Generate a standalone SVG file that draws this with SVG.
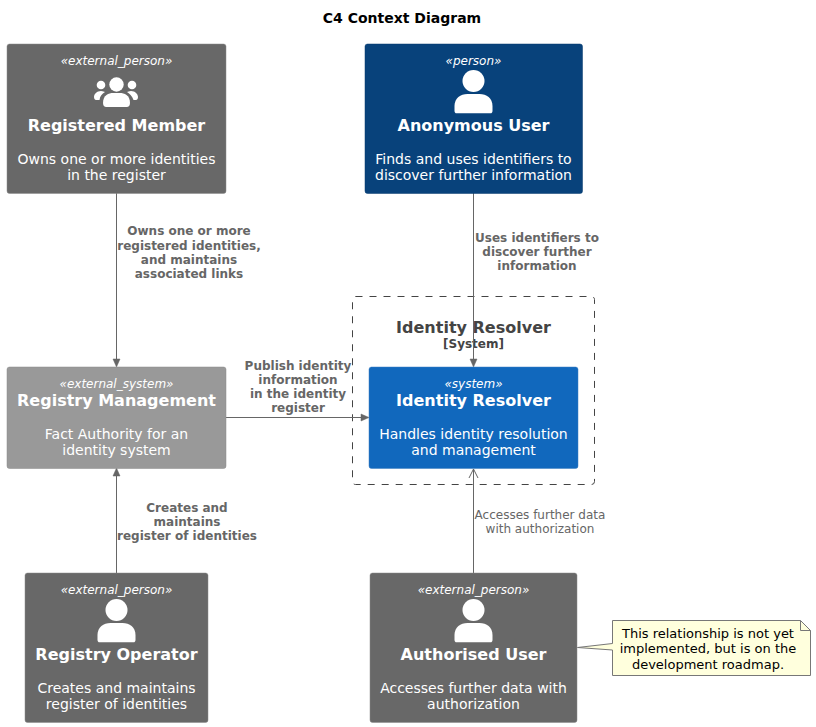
<svg xmlns="http://www.w3.org/2000/svg" width="816" height="727" viewBox="0 0 816 727">
<defs>
<style>
text{font-family:"DejaVu Sans",sans-serif;text-anchor:middle}
.st{font-size:12px;font-style:italic;fill:#fff}
.nm{font-size:16px;font-weight:bold;fill:#fff}
.ds{font-size:14px;fill:#fff}
.rl{font-size:12px;font-weight:bold;fill:#666}
.rn{font-size:12px;fill:#666}
.cn{stroke:#666;stroke-width:1;fill:none}
.ah{fill:#666;stroke:#666;stroke-width:0.500}
.ic{fill:#fff}
</style>
<g id="person"><circle cx="0" cy="0" r="11"/><path d="M-19 30V25C-19 17-13 13-6 13H6C13 13 19 17 19 25V30C19 31.500 18 32.300 17 32.300H-17C-18 32.300-19 31.500-19 30Z"/></g>
</defs>
<rect width="816" height="727" fill="#fff"/>
<text x="402" y="23" font-size="14" font-weight="bold" fill="#000">C4 Context Diagram</text>

<g id="boundary">
<rect x="352.500" y="296.500" width="242" height="188" rx="3" fill="none" stroke="#444" stroke-dasharray="7,7"/>
<text x="473.500" y="333" font-size="16" font-weight="bold" fill="#444">Identity Resolver</text>
<text x="473.500" y="348" font-size="12" font-weight="bold" fill="#444">[System]</text>
</g>

<g id="connectors">
<path class="cn" d="M116.500 193V361"/><path class="ah" d="M116.500 367L113 359L120 359Z"/>
<path class="cn" d="M473.500 193V361"/><path class="ah" d="M473.500 367L470 359L477 359Z"/>
<path class="cn" d="M226 417.500H363"/><path class="ah" d="M369 417.500L361 414L361 421Z"/>
<path class="cn" d="M116.500 573V474"/><path class="ah" d="M116.500 468L113 476L120 476Z"/>
<path class="cn" d="M473.500 573V469M469 478L473.500 469L478 478"/>
<text class="rl" x="189" y="235">Owns one or more</text>
<text class="rl" x="189" y="250">registered identities,</text>
<text class="rl" x="189" y="264">and maintains</text>
<text class="rl" x="189" y="278">associated links</text>
<text class="rl" x="537" y="242">Uses identifiers to</text>
<text class="rl" x="537" y="256">discover further</text>
<text class="rl" x="537" y="270">information</text>
<text class="rl" x="298" y="370">Publish identity</text>
<text class="rl" x="298" y="384">information</text>
<text class="rl" x="298" y="398">in the identity</text>
<text class="rl" x="298" y="412">register</text>
<text class="rl" x="187" y="512">Creates and</text>
<text class="rl" x="187" y="526">maintains</text>
<text class="rl" x="187" y="540">register of identities</text>
<text class="rn" x="540" y="519">Accesses further data</text>
<text class="rn" x="540" y="533">with authorization</text>
</g>

<g id="registered-member">
<rect x="7" y="44" width="219" height="149.500" rx="2.500" fill="#686868" stroke="#8a8a8a" stroke-width="0.500"/>
<text class="st" x="116.500" y="65">«external_person»</text>
<g class="ic"><circle cx="116.500" cy="84.500" r="7.200"/><circle cx="101" cy="85" r="4.300"/><circle cx="132" cy="85" r="4.300"/>
<path d="M103 103C103 95 109 93 113 93H120C124 93 130 95 130 103C130 106 128 107 127 107H106C105 107 103 106 103 103Z"/>
<path d="M94 97C94 94 97 91 101 91C103 91 104 92 105 92C102 94 100 96 99.500 100L96 100C95 100 94 99 94 97Z"/>
<path d="M138 97C138 94 135 91 131 91C129 91 128 92 127 92C130 94 132 96 133.500 100L136 100C137 100 138 99 138 97Z"/></g>
<text class="nm" x="116.500" y="131">Registered Member</text>
<text class="ds" x="116.500" y="164">Owns one or more identities</text>
<text class="ds" x="116.500" y="180">in the register</text>
</g>

<g id="anonymous-user">
<rect x="365" y="44" width="217.500" height="149.500" rx="2.500" fill="#08427b" stroke="#073b6f" stroke-width="0.500"/>
<text class="st" x="473.500" y="65">«person»</text>
<use href="#person" x="473.500" y="81" class="ic"/>
<text class="nm" x="473.500" y="131">Anonymous User</text>
<text class="ds" x="473.500" y="164">Finds and uses identifiers to</text>
<text class="ds" x="473.500" y="180">discover further information</text>
</g>

<g id="registry-management">
<rect x="7" y="367" width="219" height="101.500" rx="2.500" fill="#999" stroke="#8a8a8a" stroke-width="0.500"/>
<text class="st" x="116.500" y="388">«external_system»</text>
<text class="nm" x="116.500" y="406">Registry Management</text>
<text class="ds" x="116.500" y="439">Fact Authority for an</text>
<text class="ds" x="116.500" y="455">identity system</text>
</g>

<g id="identity-resolver">
<rect x="369" y="367" width="209" height="101.500" rx="2.500" fill="#1168bd" stroke="#3c7fc0" stroke-width="0.500"/>
<text class="st" x="473.500" y="388">«system»</text>
<text class="nm" x="473.500" y="406">Identity Resolver</text>
<text class="ds" x="473.500" y="439">Handles identity resolution</text>
<text class="ds" x="473.500" y="455">and management</text>
</g>

<g id="registry-operator">
<rect x="25" y="573" width="183" height="149.500" rx="2.500" fill="#686868" stroke="#8a8a8a" stroke-width="0.500"/>
<text class="st" x="116.500" y="594">«external_person»</text>
<use href="#person" x="116.500" y="610" class="ic"/>
<text class="nm" x="116.500" y="660">Registry Operator</text>
<text class="ds" x="116.500" y="693">Creates and maintains</text>
<text class="ds" x="116.500" y="709">register of identities</text>
</g>

<g id="authorised-user">
<rect x="370" y="573" width="207" height="149.500" rx="2.500" fill="#686868" stroke="#8a8a8a" stroke-width="0.500"/>
<text class="st" x="473.500" y="594">«external_person»</text>
<use href="#person" x="473.500" y="610" class="ic"/>
<text class="nm" x="473.500" y="660">Authorised User</text>
<text class="ds" x="473.500" y="693">Accesses further data with</text>
<text class="ds" x="473.500" y="709">authorization</text>
</g>

<g id="note">
<path d="M612.500 620.500H800.500L810.500 630.500V675.500H612.500V650L577.500 647.500L612.500 643.500Z" fill="#ffffdd" stroke="#777"/>
<path d="M800.500 620.500V630.500H810.500" fill="none" stroke="#777"/>
<text x="708" y="638" font-size="13" fill="#000">This relationship is not yet</text>
<text x="708" y="653" font-size="13" fill="#000">implemented, but is on the</text>
<text x="708" y="669" font-size="13" fill="#000">development roadmap.</text>
</g>
</svg>
